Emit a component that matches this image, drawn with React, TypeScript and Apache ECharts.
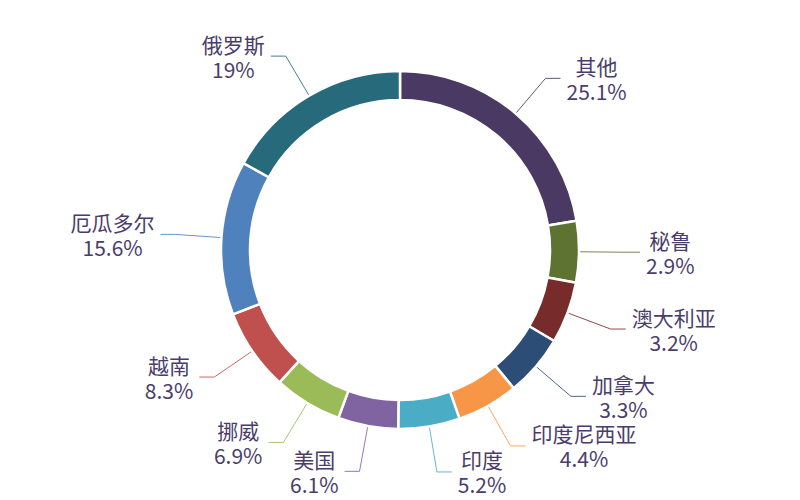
import React, { useEffect, useRef } from "react";
import * as echarts from "echarts";

const categories = ["其他", "秘鲁", "澳大利亚", "加拿大", "印度尼西亚", "印度", "美国", "挪威", "越南", "厄瓜多尔", "俄罗斯"];
const shares = [25.1, 2.9, 3.2, 3.3, 4.4, 5.2, 6.1, 6.9, 8.3, 15.6, 19];
const sliceColors = ["#4a3a63", "#5e7331", "#772b2a", "#2c4d75", "#f79646", "#4bacc6", "#8064a2", "#9bbb59", "#c0504d", "#4f81bd", "#266a7b"];

export default function App() {
  const ref = useRef<HTMLDivElement>(null);
  useEffect(() => {
    if (!ref.current) return;
    const chart = echarts.init(ref.current, undefined, { renderer: "svg" });
    chart.setOption({
      animation: false,
      backgroundColor: "#ffffff",
      series: [
        {
          type: "pie",
          center: [400, 250],
          radius: [150, 179],
          startAngle: 90,
          minAngle: 20,
          clockwise: true,
          avoidLabelOverlap: false,
          itemStyle: { borderColor: "#ffffff", borderWidth: 2.5 },
          label: {
            show: true,
            position: "outside",
            formatter: (p: any) => `{a|${p.name}}\n{a|${p.value}%}`,
            rich: {
              a: {
                align: "center",
                fontSize: 21,
                lineHeight: 25,
                color: "#4b3d6b",
                fontFamily: "'Noto Sans CJK SC', 'Noto Sans', sans-serif",
              },
            },
            distanceToLabelLine: 6,
          },
          labelLine: { show: true, length: 46, length2: 15, smooth: false, lineStyle: { width: 1 } },
          data: categories.map((name, i) => ({
            name,
            value: shares[i],
            itemStyle: { color: sliceColors[i] },
            labelLine: { lineStyle: { color: sliceColors[i], opacity: 0.85 } },
          })),
        },
      ],
    });
    return () => chart.dispose();
  }, []);
  return <div ref={ref} style={{ position: "fixed", left: 0, top: 0, width: 800, height: 500 }} />;
}
